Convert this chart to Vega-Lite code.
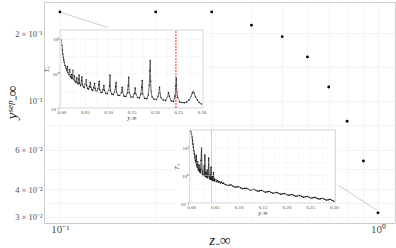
{
  "$schema": "https://vega.github.io/schema/vega-lite/v6.json",
  "width": 351,
  "height": 221,
  "autosize": "none",
  "padding": {"left": 44, "top": 2, "right": 1, "bottom": 25},
  "background": "white",
  "config": {
    "view": {"stroke": "#cccccc", "strokeWidth": 1},
    "axis": {
      "labelFont": "Liberation Serif",
      "titleFont": "Liberation Serif",
      "titleFontWeight": "normal",
      "labelColor": "#4d4d4d",
      "titleColor": "#1a1a1a",
      "gridColor": "#ececec",
      "gridWidth": 0.6,
      "domain": false,
      "ticks": false
    }
  },
  "datasets": {
    "main": [
      {"x": 0.1, "y": 0.25}, {"x": 0.2, "y": 0.25}, {"x": 0.3, "y": 0.25},
      {"x": 0.4, "y": 0.218}, {"x": 0.5, "y": 0.1935}, {"x": 0.6, "y": 0.157},
      {"x": 0.7, "y": 0.115}, {"x": 0.8, "y": 0.0807}, {"x": 0.9, "y": 0.0535},
      {"x": 1.0, "y": 0.0313}
    ],
    "links": [
      {"x": 0.1015, "y": 0.248, "x2": 0.1416, "y2": 0.2125},
      {"x": 0.991, "y": 0.0322, "x2": 0.748, "y2": 0.0417}
    ],
    "inset1": [{"x":0,"y":9.5},{"x":0.001,"y":6.5},{"x":0.002,"y":4.8},{"x":0.003,"y":3.6},{"x":0.004,"y":3.0},{"x":0.005,"y":2.5},{"x":0.006,"y":2.1},{"x":0.008,"y":1.7},{"x":0.01,"y":1.4},{"x":0.012,"y":1.2},{"x":0.013,"y":1.6},{"x":0.014,"y":1.05},{"x":0.016,"y":0.92},{"x":0.018,"y":1.3},{"x":0.019,"y":0.82},{"x":0.021,"y":0.74},{"x":0.022,"y":0.95},{"x":0.023,"y":0.7},{"x":0.025,"y":1.25},{"x":0.026,"y":0.66},{"x":0.028,"y":0.85},{"x":0.029,"y":0.6},{"x":0.031,"y":0.56},{"x":0.033,"y":0.75},{"x":0.034,"y":0.53},{"x":0.036,"y":0.5},{"x":0.037,"y":0.68},{"x":0.038,"y":0.9},{"x":0.039,"y":0.52},{"x":0.041,"y":0.45},{"x":0.043,"y":0.62},{"x":0.044,"y":0.8},{"x":0.045,"y":0.48},{"x":0.047,"y":0.41},{"x":0.049,"y":0.39},{"x":0.051,"y":0.5},{"x":0.053,"y":0.66},{"x":0.054,"y":0.45},{"x":0.056,"y":0.37},{"x":0.058,"y":0.35},{"x":0.06,"y":0.42},{"x":0.062,"y":0.55},{"x":0.063,"y":0.4},{"x":0.065,"y":0.34},{"x":0.067,"y":0.32},{"x":0.069,"y":0.39},{"x":0.071,"y":0.52},{"x":0.072,"y":0.37},{"x":0.074,"y":0.31},{"x":0.076,"y":0.3},{"x":0.078,"y":0.36},{"x":0.08,"y":0.48},{"x":0.081,"y":0.6},{"x":0.082,"y":0.34},{"x":0.084,"y":0.29},{"x":0.087,"y":0.28},{"x":0.089,"y":0.34},{"x":0.091,"y":0.45},{"x":0.092,"y":0.32},{"x":0.095,"y":0.27},{"x":0.098,"y":0.26},{"x":0.101,"y":0.32},{"x":0.103,"y":0.44},{"x":0.104,"y":0.9},{"x":0.105,"y":0.31},{"x":0.108,"y":0.25},{"x":0.111,"y":0.245},{"x":0.114,"y":0.3},{"x":0.116,"y":0.42},{"x":0.117,"y":0.55},{"x":0.118,"y":0.29},{"x":0.121,"y":0.235},{"x":0.125,"y":0.23},{"x":0.128,"y":0.28},{"x":0.13,"y":0.4},{"x":0.131,"y":0.3},{"x":0.134,"y":0.22},{"x":0.138,"y":0.215},{"x":0.141,"y":0.27},{"x":0.143,"y":0.45},{"x":0.144,"y":0.78},{"x":0.145,"y":0.28},{"x":0.149,"y":0.21},{"x":0.153,"y":0.205},{"x":0.156,"y":0.26},{"x":0.158,"y":0.38},{"x":0.159,"y":0.27},{"x":0.163,"y":0.2},{"x":0.167,"y":0.195},{"x":0.17,"y":0.25},{"x":0.172,"y":0.4},{"x":0.173,"y":0.63},{"x":0.174,"y":0.26},{"x":0.178,"y":0.19},{"x":0.183,"y":0.185},{"x":0.186,"y":0.24},{"x":0.188,"y":0.45},{"x":0.189,"y":1.2},{"x":0.19,"y":2.4},{"x":0.191,"y":0.6},{"x":0.192,"y":0.3},{"x":0.194,"y":0.21},{"x":0.198,"y":0.18},{"x":0.203,"y":0.175},{"x":0.207,"y":0.22},{"x":0.21,"y":0.4},{"x":0.211,"y":0.27},{"x":0.213,"y":0.2},{"x":0.218,"y":0.17},{"x":0.223,"y":0.165},{"x":0.227,"y":0.21},{"x":0.229,"y":0.28},{"x":0.231,"y":0.22},{"x":0.235,"y":0.16},{"x":0.24,"y":0.155},{"x":0.243,"y":0.22},{"x":0.245,"y":0.45},{"x":0.246,"y":0.72},{"x":0.247,"y":0.3},{"x":0.249,"y":0.2},{"x":0.253,"y":0.15},{"x":0.258,"y":0.145},{"x":0.263,"y":0.142},{"x":0.268,"y":0.15},{"x":0.273,"y":0.17},{"x":0.277,"y":0.21},{"x":0.28,"y":0.27},{"x":0.282,"y":0.3},{"x":0.284,"y":0.27},{"x":0.287,"y":0.21},{"x":0.291,"y":0.17},{"x":0.295,"y":0.145},{"x":0.3,"y":0.13}],
    "inset2": [{"x":0,"y":40},{"x":0.001,"y":33},{"x":0.002,"y":25},{"x":0.003,"y":19},{"x":0.004,"y":14},{"x":0.005,"y":10.5},{"x":0.006,"y":8},{"x":0.007,"y":6},{"x":0.008,"y":4.6},{"x":0.009,"y":3.6},{"x":0.01,"y":2.9},{"x":0.011,"y":5.5},{"x":0.012,"y":2.4},{"x":0.013,"y":2.0},{"x":0.014,"y":3.2},{"x":0.015,"y":1.7},{"x":0.016,"y":1.5},{"x":0.017,"y":2.4},{"x":0.018,"y":1.35},{"x":0.019,"y":1.7},{"x":0.02,"y":1.25},{"x":0.021,"y":3.5},{"x":0.022,"y":10},{"x":0.023,"y":1.6},{"x":0.024,"y":1.1},{"x":0.025,"y":1.4},{"x":0.026,"y":1.0},{"x":0.027,"y":2.2},{"x":0.028,"y":0.97},{"x":0.029,"y":5.6},{"x":0.03,"y":1.2},{"x":0.031,"y":0.9},{"x":0.032,"y":1.3},{"x":0.033,"y":0.86},{"x":0.034,"y":1.6},{"x":0.035,"y":0.82},{"x":0.036,"y":1.1},{"x":0.037,"y":4.3},{"x":0.038,"y":0.95},{"x":0.039,"y":0.76},{"x":0.04,"y":1.05},{"x":0.041,"y":0.72},{"x":0.042,"y":2.0},{"x":0.043,"y":0.8},{"x":0.044,"y":0.69},{"x":0.045,"y":0.9},{"x":0.046,"y":0.66},{"x":0.047,"y":1.3},{"x":0.048,"y":0.65},{"x":0.049,"y":0.75},{"x":0.05,"y":0.62},{"x":0.052,"y":0.72},{"x":0.054,"y":0.59},{"x":0.056,"y":0.66},{"x":0.058,"y":0.56},{"x":0.06,"y":0.6},{"x":0.062,"y":0.53},{"x":0.064,"y":0.58},{"x":0.066,"y":0.51},{"x":0.068,"y":0.519},{"x":0.072,"y":0.475},{"x":0.076,"y":0.437},{"x":0.08,"y":0.445},{"x":0.084,"y":0.456},{"x":0.088,"y":0.41},{"x":0.092,"y":0.375},{"x":0.096,"y":0.385},{"x":0.1,"y":0.392},{"x":0.104,"y":0.36},{"x":0.108,"y":0.328},{"x":0.112,"y":0.335},{"x":0.116,"y":0.345},{"x":0.12,"y":0.318},{"x":0.124,"y":0.295},{"x":0.128,"y":0.303},{"x":0.132,"y":0.314},{"x":0.136,"y":0.289},{"x":0.14,"y":0.269},{"x":0.144,"y":0.277},{"x":0.148,"y":0.287},{"x":0.152,"y":0.266},{"x":0.156,"y":0.247},{"x":0.16,"y":0.255},{"x":0.164,"y":0.264},{"x":0.168,"y":0.244},{"x":0.172,"y":0.227},{"x":0.176,"y":0.234},{"x":0.18,"y":0.243},{"x":0.184,"y":0.224},{"x":0.188,"y":0.208},{"x":0.192,"y":0.214},{"x":0.196,"y":0.223},{"x":0.2,"y":0.205},{"x":0.204,"y":0.191},{"x":0.208,"y":0.197},{"x":0.212,"y":0.205},{"x":0.216,"y":0.189},{"x":0.22,"y":0.176},{"x":0.224,"y":0.181},{"x":0.228,"y":0.188},{"x":0.232,"y":0.173},{"x":0.236,"y":0.162},{"x":0.24,"y":0.167},{"x":0.244,"y":0.174},{"x":0.248,"y":0.161},{"x":0.252,"y":0.15},{"x":0.256,"y":0.155},{"x":0.26,"y":0.161},{"x":0.264,"y":0.149},{"x":0.268,"y":0.139},{"x":0.272,"y":0.143},{"x":0.276,"y":0.148},{"x":0.28,"y":0.137},{"x":0.284,"y":0.127},{"x":0.288,"y":0.131},{"x":0.292,"y":0.136},{"x":0.296,"y":0.125},{"x":0.3,"y":0.116}]
  },
  "layer": [
    {
      "layer": [
        {
          "data": {"name": "main"},
          "mark": {"type": "circle", "color": "black", "size": 8, "opacity": 1},
          "encoding": {
            "x": {
              "field": "x", "type": "quantitative",
              "scale": {"type": "log", "domain": [0.0891, 1.1312], "nice": false},
              "axis": {
                "orient": "bottom",
                "values": [0.1, 0.2, 0.3, 0.4, 0.5, 0.6, 0.7, 0.8, 0.9, 1],
                "labelExpr": "datum.value==0.1?'10⁻¹':datum.value==1?'10⁰':''",
                "labelFontSize": 11, "labelPadding": 0,
                "title": "z₋∞", "titleFontSize": 15, "titleFontStyle": "italic",
                "titleBaseline": "alphabetic", "titleY": 21
              }
            },
            "y": {
              "field": "y", "type": "quantitative",
              "scale": {"type": "log", "domain": [0.02817, 0.277], "nice": false},
              "axis": {
                "orient": "left",
                "values": [0.03, 0.0346, 0.04, 0.049, 0.06, 0.0775, 0.1, 0.1414, 0.2],
                "labelExpr": "datum.value==0.2?'2 × 10⁻¹':datum.value==0.1?'10⁻¹':datum.value==0.06?'6 × 10⁻²':datum.value==0.04?'4 × 10⁻²':datum.value==0.03?'3 × 10⁻²':''",
                "labelFontSize": 8.5, "labelPadding": 2,
                "title": "yˢᵉᵖ₋∞", "titleFontSize": 15, "titleFontStyle": "italic",
                "titleBaseline": "middle", "titleX": -33, "titleY": 100
              }
            }
          }
        },
        {
          "data": {"name": "links"},
          "mark": {"type": "rule", "color": "#aaaaaa", "strokeWidth": 0.6},
          "encoding": {
            "x": {"field": "x", "type": "quantitative"},
            "y": {"field": "y", "type": "quantitative"},
            "x2": {"field": "x2"},
            "y2": {"field": "y2"}
          }
        }
      ]
    },
    {
      "data": {"name": "inset1"},
      "layer": [
        {
          "data": {"values": [{}]},
          "mark": {"type": "rect", "fill": "white"},
          "encoding": {
            "x": {
              "datum": -0.035, "type": "quantitative",
              "scale": {"domain": [-0.003, 0.303], "range": [16, 159], "nice": false, "zero": false},
              "axis": {"orient": "top", "grid": true, "labels": false, "title": null,
                       "values": [0, 0.025, 0.05, 0.075, 0.1, 0.125, 0.15, 0.175, 0.2, 0.225, 0.25, 0.275, 0.3],
                       "zindex": 1, "gridColor": "#eeeeee", "gridWidth": 0.4}
            },
            "x2": {"datum": 0.307},
            "y": {
              "datum": 0.0367, "type": "quantitative",
              "scale": {"type": "log", "domain": [0.1, 18.2], "range": [106, 28], "nice": false},
              "axis": {"orient": "left", "offset": -16, "grid": true, "zindex": 1,
                       "gridColor": "#eeeeee", "gridWidth": 0.4,
                       "values": [0.1, 0.316, 1, 3.16, 10],
                       "labelExpr": "datum.value==10?'10¹':datum.value==1?'10⁰':datum.value==0.1?'10⁻¹':''",
                       "labelFontSize": 5, "labelPadding": 1,
                       "title": "Tₙ", "titleFontSize": 6, "titlePadding": 1, "titleFontStyle": "italic"}
            },
            "y2": {"datum": 20.8}
          }
        },
        {
          "data": {"values": [{}]},
          "mark": {"type": "rect", "fill": "white", "stroke": "#cccccc", "strokeWidth": 0.8},
          "encoding": {
            "x": {"datum": -0.003, "type": "quantitative", "axis": null},
            "x2": {"datum": 0.303},
            "y": {"datum": 0.1, "type": "quantitative", "axis": null},
            "y2": {"datum": 18.2}
          }
        },
        {
          "data": {"values": [{}]},
          "mark": {"type": "rule", "color": "#ff2020", "strokeWidth": 1.3, "opacity": 0.75, "strokeDash": [2, 1]},
          "encoding": {
            "x": {"datum": 0.245, "type": "quantitative", "axis": null},
            "y": {"datum": 0.1, "type": "quantitative", "axis": null},
            "y2": {"datum": 18.2}
          }
        },
        {
          "mark": {"type": "line", "color": "#444444", "strokeWidth": 0.8},
          "encoding": {
            "x": {"field": "x", "type": "quantitative",
                  "axis": {"orient": "bottom", "offset": -115, "grid": false, "zindex": 1,
                           "values": [0, 0.05, 0.1, 0.15, 0.2, 0.25, 0.3], "format": ".2f",
                           "labelFontSize": 5, "labelPadding": 1,
                           "title": "y₋∞", "titleFontSize": 6, "titlePadding": 0, "titleFontStyle": "italic"}},
            "y": {"field": "y", "type": "quantitative", "axis": null}
          }
        },
        {
          "mark": {"type": "circle", "color": "black", "size": 2, "opacity": 0.9},
          "encoding": {
            "x": {"field": "x", "type": "quantitative", "axis": null},
            "y": {"field": "y", "type": "quantitative", "axis": null}
          }
        }
      ],
      "resolve": {"axis": {"x": "independent", "y": "independent"}}
    },
    {
      "data": {"name": "inset2"},
      "layer": [
        {
          "data": {"values": [{}]},
          "mark": {"type": "rect", "fill": "white"},
          "encoding": {
            "x": {
              "datum": -0.0315, "type": "quantitative",
              "scale": {"domain": [-0.003, 0.303], "range": [145.6, 291.4], "nice": false, "zero": false},
              "axis": {"orient": "top", "grid": true, "labels": false, "title": null,
                       "values": [0, 0.025, 0.05, 0.075, 0.1, 0.125, 0.15, 0.175, 0.2, 0.225, 0.25, 0.275, 0.3],
                       "zindex": 1, "gridColor": "#eeeeee", "gridWidth": 0.4}
            },
            "x2": {"datum": 0.3085},
            "y": {
              "datum": 0.031, "type": "quantitative",
              "scale": {"type": "log", "domain": [0.1, 45], "range": [201, 128], "nice": false},
              "axis": {"orient": "left", "offset": -145.6, "grid": true, "zindex": 1,
                       "gridColor": "#eeeeee", "gridWidth": 0.4,
                       "values": [0.1, 0.316, 1, 3.16, 10],
                       "labelExpr": "datum.value==10?'10¹':datum.value==1?'10⁰':datum.value==0.1?'10⁻¹':''",
                       "labelFontSize": 5, "labelPadding": 1,
                       "title": "Tₙ", "titleFontSize": 6, "titlePadding": 1, "titleFontStyle": "italic"}
            },
            "y2": {"datum": 49}
          }
        },
        {
          "data": {"values": [{}]},
          "mark": {"type": "rect", "fill": "white", "stroke": "#cccccc", "strokeWidth": 0.8},
          "encoding": {
            "x": {"datum": -0.003, "type": "quantitative", "axis": null},
            "x2": {"datum": 0.303},
            "y": {"datum": 0.1, "type": "quantitative", "axis": null},
            "y2": {"datum": 45}
          }
        },
        {
          "data": {"values": [{}]},
          "mark": {"type": "rule", "color": "#ff9090", "strokeWidth": 0.8, "opacity": 0.8},
          "encoding": {
            "x": {"datum": 0.043, "type": "quantitative", "axis": null},
            "y": {"datum": 0.1, "type": "quantitative", "axis": null},
            "y2": {"datum": 45}
          }
        },
        {
          "mark": {"type": "line", "color": "#333333", "strokeWidth": 0.9},
          "encoding": {
            "x": {"field": "x", "type": "quantitative",
                  "axis": {"orient": "bottom", "offset": -20, "grid": false, "zindex": 1,
                           "values": [0, 0.05, 0.1, 0.15, 0.2, 0.25, 0.3], "format": ".2f",
                           "labelFontSize": 5, "labelPadding": 1,
                           "title": "y₋∞", "titleFontSize": 6, "titlePadding": 0, "titleFontStyle": "italic"}},
            "y": {"field": "y", "type": "quantitative", "axis": null}
          }
        },
        {
          "mark": {"type": "circle", "color": "black", "size": 2, "opacity": 0.9},
          "encoding": {
            "x": {"field": "x", "type": "quantitative", "axis": null},
            "y": {"field": "y", "type": "quantitative", "axis": null}
          }
        }
      ],
      "resolve": {"axis": {"x": "independent", "y": "independent"}}
    }
  ],
  "resolve": {"scale": {"x": "independent", "y": "independent"}}
}
